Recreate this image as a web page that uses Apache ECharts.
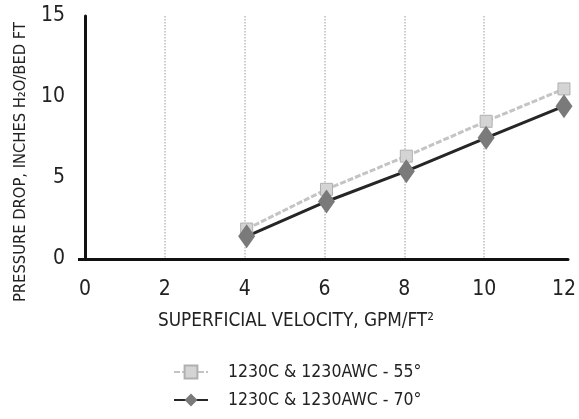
<!DOCTYPE html>
<html>
<head>
<meta charset="utf-8">
<script src="https://cdn.jsdelivr.net/npm/echarts@6/dist/echarts.min.js"></script>
<style>
html,body{margin:0;padding:0;background:#fff;}
#main{width:579px;height:419px;}
</style>
</head>
<body>
<div id="main"></div>
<script>
// values
const velocity = [4.05, 6.05, 8.05, 10.05, 12];
const drop55 = [1.85, 4.3, 6.35, 8.5, 10.5];
const drop70 = [1.4, 3.55, 5.42, 7.48, 9.43];
const seriesNames = ['1230C & 1230AWC - 55°', '1230C & 1230AWC - 70°'];
const xTitle = 'SUPERFICIAL VELOCITY, GPM/FT²';
const yTitle = 'PRESSURE DROP, INCHES H₂O/BED FT';

const font = '"DejaVu Sans Condensed","Liberation Sans Narrow",sans-serif';
const grid = '#bdbdbd';
const none = 'rgba(0,0,0,0)';

function pairs(xs, ys){
    const out = [];
    for (let i = 0; i < xs.length; i++) {
        out.push([xs[i], ys[i]]);
    }
    return out
}

const chart = echarts.init(document.getElementById('main'));
const option = {
    animation: false,
    backgroundColor: '#fff',
    grid: {left: 85, right: 4, top: 16, bottom: 160},
    xAxis: {
        type: 'value',
        min: 0,
        max: 12.1,
        interval: 2,
        axisLine: {show: true, onZero: false, lineStyle: {color: '#111', width: 3}},
        axisTick: {show: false},
        axisLabel: {showMaxLabel: false, margin: 20, color: '#222', fontFamily: font, fontSize: 21},
        // no dotted line at 0 and at the right end
        splitLine: {show: true, lineStyle: {type: 'dotted', width: 1.5,
            color: [none, grid, grid, grid, grid, grid, none, none]}}
    },
    yAxis: {
        type: 'value',
        min: 0,
        max: 15,
        interval: 5,
        axisLine: {show: true, lineStyle: {color: '#111', width: 3}},
        axisTick: {show: true, length: 7, customValues: [0], lineStyle: {color: '#111', width: 3}},
        axisLabel: {margin: 20, color: '#222', fontFamily: font, fontSize: 21},
        splitLine: {show: true, lineStyle: {type: 'dotted', width: 1.5, color: grid}}
    },
    legend: {
        orient: 'vertical',
        left: 168,
        top: 358,
        itemWidth: 34,
        itemHeight: 16,
        itemGap: 10,
        textStyle: {fontFamily: font, fontSize: 17.5, color: '#222', padding: [0, 0, 0, 15]},
        data: seriesNames
    },
    graphic: [
        {type: 'text', left: 158, top: 312,
         style: {text: xTitle, fontFamily: font, fontSize: 18.8, fill: '#222'}},
        {type: 'text', x: 21, y: 162, rotation: Math.PI / 2,
         style: {text: yTitle, fontFamily: font, fontSize: 16.4, fill: '#222',
                 align: 'center', verticalAlign: 'middle'}}
    ],
    series: [
        {
            name: seriesNames[0],
            type: 'line',
            data: pairs(velocity, drop55),
            symbol: 'rect',
            symbolSize: 12,
            itemStyle: {color: '#d4d4d4', borderColor: '#b0b0b0', borderWidth: 1},
            lineStyle: {color: '#c4c4c4', width: 3, type: [6, 2]}
        },
        {
            name: seriesNames[1],
            type: 'line',
            data: pairs(velocity, drop70),
            symbol: 'diamond',
            symbolSize: [17, 24],
            itemStyle: {color: '#7a7a7a'},
            lineStyle: {color: '#262626', width: 3}
        }
    ]
};
chart.setOption(option);
</script>
</body>
</html>
